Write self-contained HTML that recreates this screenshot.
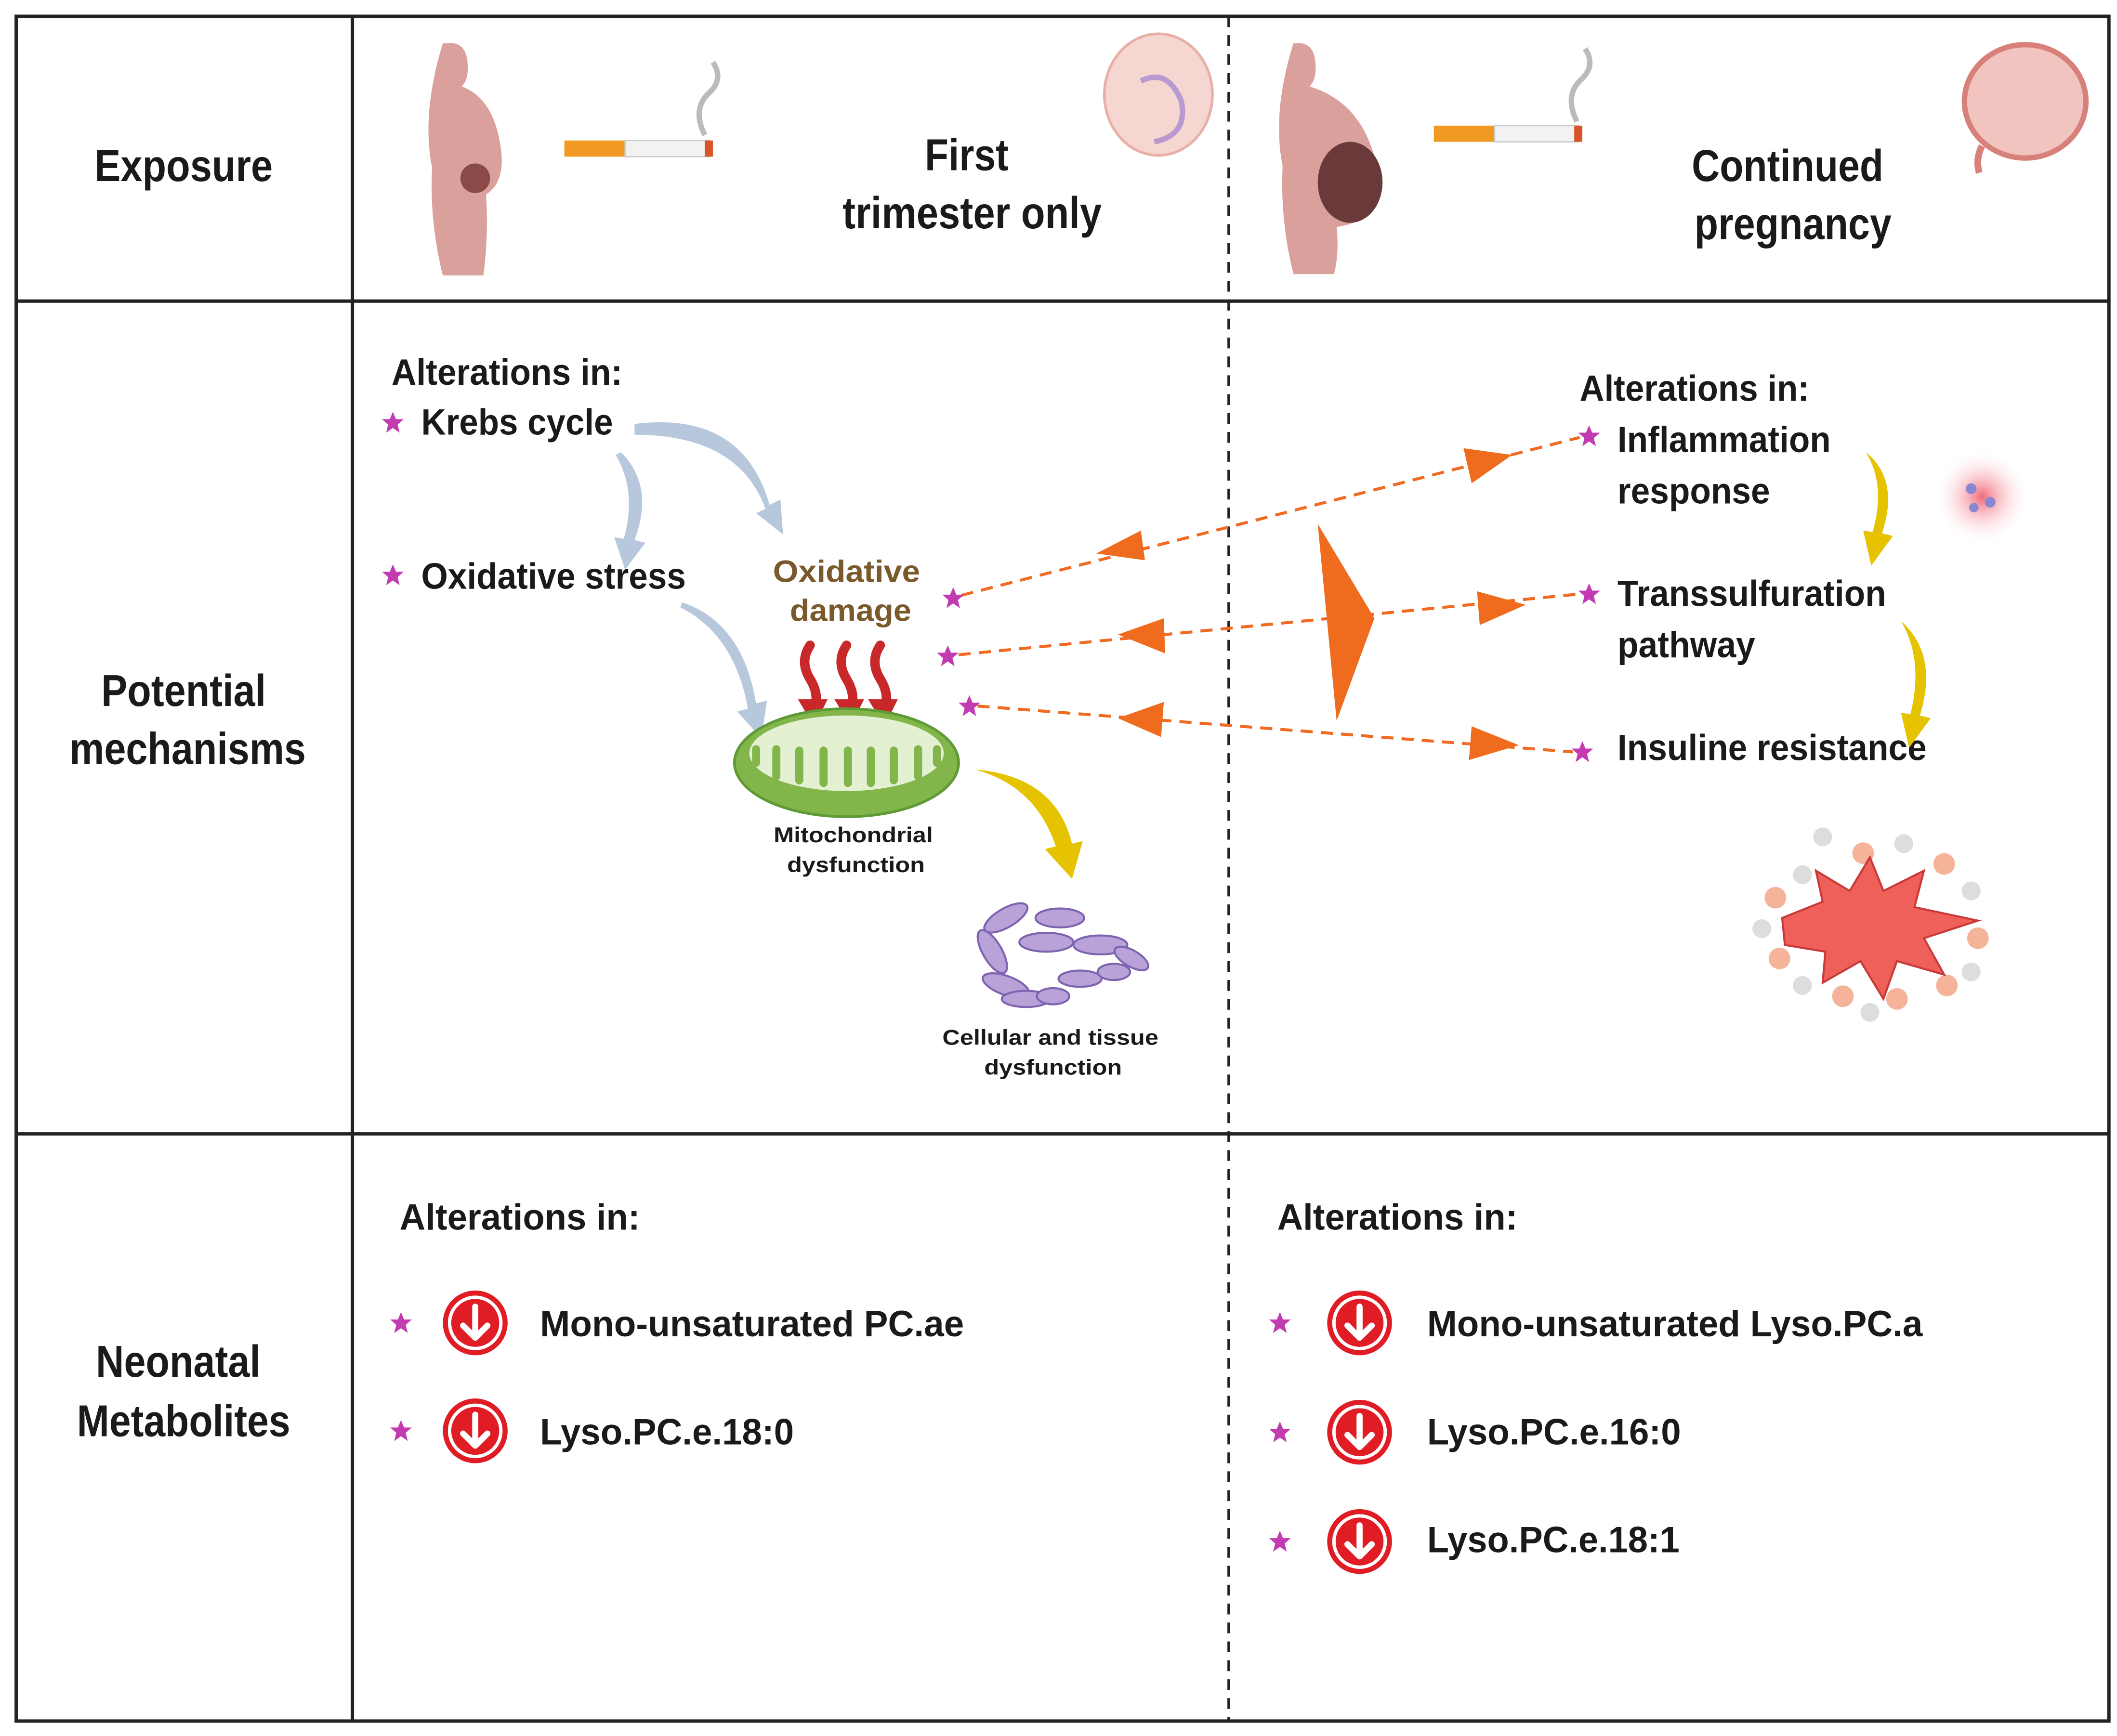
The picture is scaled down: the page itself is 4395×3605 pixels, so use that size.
<!DOCTYPE html>
<html><head><meta charset="utf-8"><style>
html,body{margin:0;padding:0;background:#fff;}
svg{display:block;}
text{font-family:"Liberation Sans Narrow","Liberation Sans",sans-serif;font-weight:bold;fill:#1a1a1a;}
.s{font-family:"Liberation Sans",sans-serif;}
</style></head><body>
<svg width="4395" height="3605" viewBox="0 0 1568 1286" xmlns="http://www.w3.org/2000/svg">
<defs>
<g id="st"><polygon points="0,-8 2.3,-2.5 8,-2.5 3.5,1.5 5,7.5 0,4 -5,7.5 -3.5,1.5 -8,-2.5 -2.3,-2.5" fill="#c23bb0"/></g>
<g id="dn"><circle r="24" fill="#e01c24"/><circle r="19" fill="none" stroke="#fff" stroke-width="2.5"/><path d="M0,-12 V10 M-9,2 L0,11 L9,2" stroke="#fff" stroke-width="4.5" fill="none" stroke-linecap="round" stroke-linejoin="round"/></g>
<g id="cig"><rect x="0" y="-6" width="45" height="12" fill="#f09a24"/><rect x="45" y="-6" width="62" height="12" fill="#f2f2f2" stroke="#ccc" stroke-width="1"/><rect x="104" y="-6" width="6" height="12" fill="#d9542a"/></g>
</defs>
<rect x="12" y="12" width="1550" height="1263" fill="none" stroke="#222" stroke-width="2.5"/>
<line x1="261" y1="12" x2="261" y2="1275" stroke="#222" stroke-width="2.5"/>
<line x1="12" y1="223" x2="1562" y2="223" stroke="#222" stroke-width="2.5"/>
<line x1="12" y1="840" x2="1562" y2="840" stroke="#222" stroke-width="2.5"/>
<line x1="910" y1="12" x2="910" y2="1275" stroke="#222" stroke-width="1.8" stroke-dasharray="8,6"/>

<g font-size="33" text-anchor="middle">
<text x="136" y="134" textLength="132" lengthAdjust="spacingAndGlyphs">Exposure</text>
<text x="136" y="523" textLength="122" lengthAdjust="spacingAndGlyphs">Potential</text>
<text x="139" y="566" textLength="175" lengthAdjust="spacingAndGlyphs">mechanisms</text>
<text x="132" y="1020" textLength="122" lengthAdjust="spacingAndGlyphs">Neonatal</text>
<text x="136" y="1064" textLength="158" lengthAdjust="spacingAndGlyphs">Metabolites</text>
<text x="716" y="126" textLength="62" lengthAdjust="spacingAndGlyphs">First</text>
<text x="720" y="169" textLength="192" lengthAdjust="spacingAndGlyphs">trimester only</text>
<text x="1324" y="134" textLength="142" lengthAdjust="spacingAndGlyphs">Continued</text>
<text x="1328" y="177" textLength="146" lengthAdjust="spacingAndGlyphs">pregnancy</text>
</g>

<path d="M330,32 q14,-2 16,12 q2,14 -4,20 q22,8 28,40 q6,30 -10,40 q2,30 -2,60 h-30 q-10,-40 -8,-80 q-8,-40 8,-92z" fill="#d9a09c"/>
<circle cx="352" cy="132" r="11" fill="#8a4a48"/>
<use href="#cig" x="418" y="110"/>
<path d="M522,100 q-10,-20 4,-32 q10,-10 2,-22" stroke="#bbb" stroke-width="4" fill="none"/>
<ellipse cx="858" cy="70" rx="40" ry="45" fill="#f6d6d0" stroke="#e8b0a8" stroke-width="2"/>
<path d="M845,60 q20,-10 30,15 q5,25 -20,30" stroke="#b99ad0" stroke-width="4" fill="none"/>
<path d="M958,32 q14,-2 16,12 q2,14 -4,20 q40,12 50,60 q4,40 -30,44 q2,20 -2,35 h-30 q-10,-40 -8,-80 q-8,-40 8,-91z" fill="#d9a09c"/>
<ellipse cx="1000" cy="135" rx="24" ry="30" fill="#6a3a3a"/>
<use href="#cig" x="1062" y="99"/>
<path d="M1168,90 q-10,-20 4,-32 q10,-10 2,-22" stroke="#bbb" stroke-width="4" fill="none"/>
<ellipse cx="1500" cy="75" rx="45" ry="42" fill="#f2c4c0" stroke="#d8807a" stroke-width="4"/>
<path d="M1468,108 q-5,10 -2,20" stroke="#d8807a" stroke-width="5" fill="none"/>

<g font-size="27">
<text x="290" y="285" textLength="171" lengthAdjust="spacingAndGlyphs">Alterations in:</text>
<text x="312" y="322" textLength="142" lengthAdjust="spacingAndGlyphs">Krebs cycle</text>
<text x="312" y="436" textLength="196" lengthAdjust="spacingAndGlyphs">Oxidative stress</text>
</g>
<use href="#st" x="291" y="313"/>
<use href="#st" x="291" y="426"/>
<g font-size="23" text-anchor="middle" class="s"><text x="627" y="431" style="fill:#7a5a2a" textLength="109" lengthAdjust="spacingAndGlyphs">Oxidative</text><text x="630" y="460" style="fill:#7a5a2a" textLength="90" lengthAdjust="spacingAndGlyphs">damage</text></g>
<g fill="#b7c8dc">
<path d="M470,314 q80,-10 100,60 l8,-4 l2,26 l-20,-16 l7,-3 q-20,-55 -97,-55z"/>
<path d="M460,335 q25,25 10,65 l8,2 l-15,20 l-8,-24 l7,1 q10,-35 -6,-62z"/>
<path d="M505,446 q45,15 55,75 l8,-2 l-4,28 l-18,-20 l8,-2 q-10,-55 -50,-75z"/>
</g>
<g stroke="#c8282a" stroke-width="7" fill="none" stroke-linecap="round">
<path d="M600,478 q-8,12 0,25 q8,13 2,25"/><path d="M627,478 q-8,12 0,25 q8,13 2,25"/><path d="M652,478 q-8,12 0,25 q8,13 2,25"/>
</g>
<g fill="#c8282a"><polygon points="591,518 613,518 603,538"/><polygon points="618,518 640,518 630,538"/><polygon points="643,518 665,518 655,538"/></g>
<ellipse cx="627" cy="565" rx="83" ry="40" fill="#82b54a" stroke="#5e9a36" stroke-width="2"/>
<ellipse cx="627" cy="558" rx="72" ry="28" fill="#e3f0d2"/>
<path d="M560,565 v-10 M575,575 v-20 M592,578 v-22 M610,580 v-24 M628,580 v-24 M645,580 v-24 M662,578 v-22 M680,575 v-20 M694,565 v-10" stroke="#82b54a" stroke-width="6" stroke-linecap="round"/>
<g font-size="16" text-anchor="middle" class="s"><text x="632" y="624" textLength="118" lengthAdjust="spacingAndGlyphs">Mitochondrial</text><text x="634" y="646" textLength="102" lengthAdjust="spacingAndGlyphs">dysfunction</text></g>
<path d="M722,570 q60,5 72,55 l8,-2 l-8,28 l-20,-22 l8,-2 q-15,-45 -60,-57z" fill="#e6c300"/>
<g fill="#b9a2d8" stroke="#7e64b0" stroke-width="1.5">
<ellipse cx="745" cy="680" rx="18" ry="7" transform="rotate(-30 745 680)"/><ellipse cx="735" cy="705" rx="18" ry="7" transform="rotate(60 735 705)"/>
<ellipse cx="745" cy="730" rx="18" ry="7" transform="rotate(20 745 730)"/><ellipse cx="785" cy="680" rx="18" ry="7"/>
<ellipse cx="775" cy="698" rx="20" ry="7"/><ellipse cx="815" cy="700" rx="20" ry="7"/><ellipse cx="838" cy="710" rx="14" ry="6" transform="rotate(30 838 710)"/>
<ellipse cx="800" cy="725" rx="16" ry="6"/><ellipse cx="825" cy="720" rx="12" ry="6"/><ellipse cx="760" cy="740" rx="18" ry="6"/><ellipse cx="780" cy="738" rx="12" ry="6"/>
</g>
<g font-size="16" text-anchor="middle" class="s"><text x="778" y="774" textLength="160" lengthAdjust="spacingAndGlyphs">Cellular and tissue</text><text x="780" y="796" textLength="102" lengthAdjust="spacingAndGlyphs">dysfunction</text></g>

<g stroke="#f06a22" stroke-width="2.2" stroke-dasharray="9,6" fill="none">
<line x1="712" y1="441" x2="1170" y2="324"/>
<line x1="710" y1="485" x2="1170" y2="440"/>
<line x1="724" y1="523" x2="1165" y2="557"/>
</g>
<use href="#st" x="706" y="443"/><use href="#st" x="702" y="486"/><use href="#st" x="718" y="523"/>
<g fill="#ef6b1e">
<polygon points="812,410 845,393 848,415"/>
<polygon points="1120,337 1084,332 1090,358"/>
<polygon points="828,470 862,458 863,484"/>
<polygon points="1130,448 1094,438 1096,463"/>
<polygon points="828,532 862,520 860,546"/>
<polygon points="1125,552 1090,538 1088,563"/>
<polygon points="976,388 1018,458 990,534"/>
</g>
<g font-size="27">
<text x="1170" y="297" textLength="170" lengthAdjust="spacingAndGlyphs">Alterations in:</text>
<text x="1198" y="335" textLength="158" lengthAdjust="spacingAndGlyphs">Inflammation</text>
<text x="1198" y="373" textLength="113" lengthAdjust="spacingAndGlyphs">response</text>
<text x="1198" y="449" textLength="199" lengthAdjust="spacingAndGlyphs">Transsulfuration</text>
<text x="1198" y="487" textLength="102" lengthAdjust="spacingAndGlyphs">pathway</text>
<text x="1198" y="563" textLength="229" lengthAdjust="spacingAndGlyphs">Insuline resistance</text>
</g>
<use href="#st" x="1177" y="323"/><use href="#st" x="1177" y="440"/><use href="#st" x="1172" y="557"/>
<g fill="#e6c300">
<path d="M1382,335 q25,20 12,60 l8,2 l-16,22 l-6,-26 l7,1 q10,-35 -5,-59z"/>
<path d="M1408,460 q28,25 14,70 l8,2 l-16,22 l-6,-26 l7,1 q10,-40 -7,-69z"/>
</g>
<defs><radialGradient id="rg"><stop offset="0" stop-color="#f26a7a"/><stop offset="1" stop-color="#fff" stop-opacity="0"/></radialGradient></defs>
<circle cx="1468" cy="368" r="36" fill="url(#rg)"/>
<circle cx="1460" cy="362" r="4" fill="#8c86d0"/><circle cx="1474" cy="372" r="4" fill="#8c86d0"/><circle cx="1462" cy="376" r="3.5" fill="#8c86d0"/>
<g>
<circle cx="1350" cy="620" r="7" fill="#ddd"/><circle cx="1380" cy="632" r="8" fill="#f5b49a"/><circle cx="1410" cy="625" r="7" fill="#ddd"/><circle cx="1440" cy="640" r="8" fill="#f5b49a"/>
<circle cx="1460" cy="660" r="7" fill="#ddd"/><circle cx="1465" cy="695" r="8" fill="#f5b49a"/><circle cx="1460" cy="720" r="7" fill="#ddd"/><circle cx="1442" cy="730" r="8" fill="#f5b49a"/>
<circle cx="1405" cy="740" r="8" fill="#f5b49a"/><circle cx="1385" cy="750" r="7" fill="#ddd"/><circle cx="1365" cy="738" r="8" fill="#f5b49a"/><circle cx="1335" cy="730" r="7" fill="#ddd"/>
<circle cx="1318" cy="710" r="8" fill="#f5b49a"/><circle cx="1305" cy="688" r="7" fill="#ddd"/><circle cx="1315" cy="665" r="8" fill="#f5b49a"/><circle cx="1335" cy="648" r="7" fill="#ddd"/>
<polygon points="1320,680 1350,668 1345,645 1370,660 1385,635 1395,660 1425,645 1418,672 1465,682 1425,695 1440,722 1405,712 1395,740 1378,712 1350,728 1352,705 1322,700" fill="#f0605a" stroke="#c83a3a" stroke-width="1.5"/>
</g>

<g font-size="27">
<text x="296" y="911" textLength="178" lengthAdjust="spacingAndGlyphs">Alterations in:</text>
<text x="400" y="990" textLength="314" lengthAdjust="spacingAndGlyphs">Mono-unsaturated PC.ae</text>
<text x="400" y="1070" textLength="188" lengthAdjust="spacingAndGlyphs">Lyso.PC.e.18:0</text>
<text x="946" y="911" textLength="178" lengthAdjust="spacingAndGlyphs">Alterations in:</text>
<text x="1057" y="990" textLength="367" lengthAdjust="spacingAndGlyphs">Mono-unsaturated Lyso.PC.a</text>
<text x="1057" y="1070" textLength="188" lengthAdjust="spacingAndGlyphs">Lyso.PC.e.16:0</text>
<text x="1057" y="1150" textLength="187" lengthAdjust="spacingAndGlyphs">Lyso.PC.e.18:1</text>
</g>
<use href="#st" x="297" y="980"/><use href="#dn" x="352" y="980"/>
<use href="#st" x="297" y="1060"/><use href="#dn" x="352" y="1060"/>
<use href="#st" x="948" y="980"/><use href="#dn" x="1007" y="980"/>
<use href="#st" x="948" y="1061"/><use href="#dn" x="1007" y="1061"/>
<use href="#st" x="948" y="1142"/><use href="#dn" x="1007" y="1142"/>
</svg>
</body></html>
